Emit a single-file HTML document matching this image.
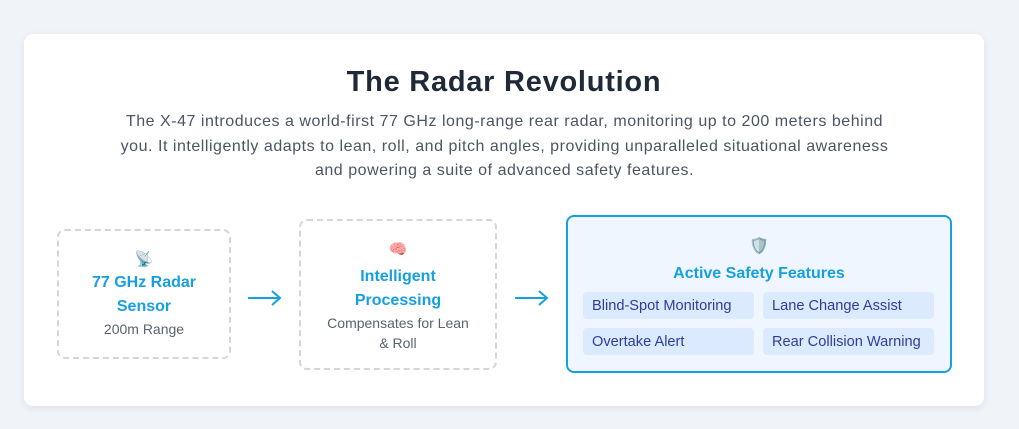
<!DOCTYPE html>
<html><head><style>
body{margin:0;width:1019px;height:429px;background:#f0f3f8;font-family:"Liberation Sans",sans-serif;position:relative;overflow:hidden}
.card{position:absolute;left:24px;top:34px;width:960px;height:372px;background:#fff;border-radius:9px;box-shadow:0 2px 8px rgba(0,0,0,.08)}
.abs{position:absolute}
h1{position:absolute;left:0;width:1008px;top:66px;margin:0;text-align:center;font-size:29px;font-weight:bold;color:#1f2937;letter-spacing:0.75px}
.p{left:0;width:1009px;top:110px;text-align:center;font-size:16px;line-height:24.5px;color:#4b5563;letter-spacing:0.53px;white-space:nowrap}
.box{position:absolute;box-sizing:border-box;border:2px dashed #d4d6db;border-radius:8px;text-align:center}
.t{color:#16a0e0;font-weight:bold;font-size:16px;line-height:24px}
.s{color:#5b6270;font-size:14px;line-height:20px}
.chip{position:absolute;background:#dbeafe;border-radius:4px;height:27px;width:171px;color:#2f3d9c;font-size:14.6px;line-height:29px;padding-left:9px;box-sizing:border-box}
</style></head><body>
<div class="card"></div>
<h1>The Radar Revolution</h1>
<div class="abs p">The X-47 introduces a world-first 77 GHz long-range rear radar, monitoring up to 200 meters behind<br>you. It intelligently adapts to lean, roll, and pitch angles, providing unparalleled situational awareness<br>and powering a suite of advanced safety features.</div>
<div class="box" style="left:57px;top:229px;width:174px;height:130px">
<div style="margin-top:20px;font-size:15px;line-height:18px;color:#999">📡</div>
<div class="t" style="margin-top:2px">77 GHz Radar<br>Sensor</div>
<div class="s">200m Range</div></div>
<svg class="abs" style="left:246px;top:290px" width="40" height="16"><path d="M2 8H34M26 1L34 8L26 15" stroke="#16a0e0" stroke-width="2" fill="none"/></svg>
<div class="box" style="left:299px;top:219px;width:198px;height:151px">
<div style="margin-top:20px;font-size:15px;line-height:18px">🧠</div>
<div class="t" style="margin-top:6px">Intelligent<br>Processing</div>
<div class="s">Compensates for Lean<br>&amp; Roll</div></div>
<svg class="abs" style="left:513px;top:290px" width="40" height="16"><path d="M2 8H34M26 1L34 8L26 15" stroke="#16a0e0" stroke-width="2" fill="none"/></svg>
<div class="box" style="left:566px;top:215px;width:386px;height:158px;border:2px solid #16a0e0;background:#eff6ff">
<div style="margin-top:20px;font-size:16px;line-height:20px">🛡️</div>
<div class="t" style="margin-top:5px">Active Safety Features</div></div>
<div class="chip" style="left:583px;top:292px">Blind-Spot Monitoring</div>
<div class="chip" style="left:763px;top:292px">Lane Change Assist</div>
<div class="chip" style="left:583px;top:328px">Overtake Alert</div>
<div class="chip" style="left:763px;top:328px">Rear Collision Warning</div>
</body></html>
